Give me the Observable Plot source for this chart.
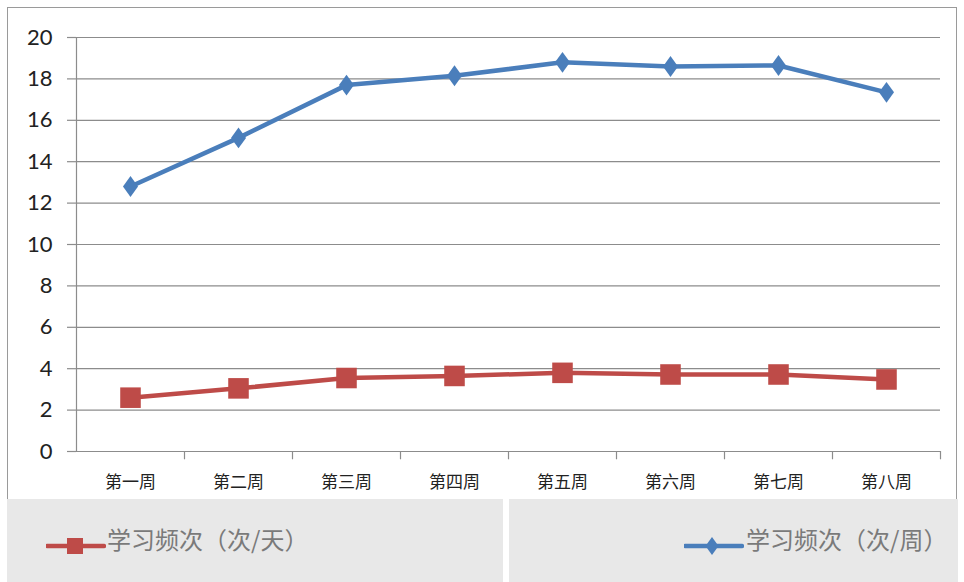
<!DOCTYPE html>
<html>
<head>
<meta charset="utf-8">
<script src="https://cdn.jsdelivr.net/npm/d3@7"></script>
<script src="https://cdn.jsdelivr.net/npm/@observablehq/plot@0.6"></script>
<style>
  html, body { margin: 0; padding: 0; background: #fff; }
  #wrap { position: relative; width: 964px; height: 582px; overflow: hidden; }
  #frame { position: absolute; left: 7px; top: 7px; width: 950px; height: 580px; border: 1px solid #9a9a9a; box-sizing: border-box; }
  #chart { position: absolute; left: 0; top: 0; }
  .panel { position: absolute; top: 499px; height: 83px; background: #e8e8e8; }
  .sw { position: absolute; top: 534px; }
  .lt { position: absolute; top: 521px; font-family: "Noto Sans CJK SC", sans-serif; font-size: 24px; line-height: 36px; color: #7a7a7a; white-space: nowrap; }
</style>
</head>
<body>
<div id="wrap">
  <div id="frame"></div>
  <div class="panel" style="left:7px; width:496px;"></div>
  <div class="panel" style="left:509px; width:449px;"></div>
  <div id="chart"></div>
  <div class="sw" id="swDay" style="left:46px;"></div>
  <div class="lt" id="ltDay" style="left:107px;"></div>
  <div class="sw" id="swWeek" style="left:684px;"></div>
  <div class="lt" id="ltWeek" style="left:746px;"></div>
</div>
<script>
const weeks = ["第一周", "第二周", "第三周", "第四周", "第五周", "第六周", "第七周", "第八周"];
const perWeek = [12.8, 15.15, 17.7, 18.15, 18.8, 18.6, 18.65, 17.35];
const perDay = [2.6, 3.05, 3.55, 3.65, 3.8, 3.72, 3.72, 3.48];
const seriesNames = ["学习频次（次/天）", "学习频次（次/周）"];
const yTicks = [0, 2, 4, 6, 8, 10, 12, 14, 16, 18, 20];

const blue = "#4a7ebb";
const red = "#be4b48";
const gridColor = "#8c8c8c";

const weekData = weeks.map((w, i) => ({week: w, value: perWeek[i]}));
const dayData = weeks.map((w, i) => ({week: w, value: perDay[i]}));

const tallDiamond = {
  draw(context, size) {
    const h = Math.sqrt(size) * 0.62;
    const w = h * 0.72;
    context.moveTo(0, -h);
    context.lineTo(w, 0);
    context.lineTo(0, h);
    context.lineTo(-w, 0);
    context.closePath();
  }
};
const squareSym = {
  draw(context, size) {
    const s = Math.sqrt(size) / 2;
    context.rect(-s, -s, 2 * s, 2 * s);
  }
};

const mLeft = 76, mRight = 24;
const halfBand = (964 - mLeft - mRight) / weeks.length / 2;

const chart = Plot.plot({
  width: 964,
  height: 497,
  marginLeft: mLeft,
  marginRight: mRight,
  marginTop: 37,
  marginBottom: 46,
  style: {background: "transparent", fontFamily: "Lato, sans-serif"},
  x: {type: "band", domain: weeks, padding: 0, axis: null},
  y: {domain: [0, 20], axis: null},
  marks: [
    Plot.ruleY(yTicks, {stroke: gridColor, strokeWidth: 1.2}),
    Plot.ruleX([weeks[0]], {dx: -halfBand, y1: 0, y2: 20, stroke: gridColor, strokeWidth: 1.2}),
    Plot.ruleX(weeks, {dx: halfBand, y1: 0, y2: -0.4, stroke: gridColor, strokeWidth: 1.2}),
    Plot.axisY({ticks: yTicks, tickSize: 9, tickPadding: 15, fontSize: 22, fill: "#222", stroke: gridColor, strokeWidth: 1.2, label: null}),
    Plot.axisX({tickSize: 0, tickPadding: 24, fontSize: 17, fill: "#222", label: null, fontFamily: "'Noto Sans CJK SC', sans-serif"}),
    Plot.line(weekData, {x: "week", y: "value", stroke: blue, strokeWidth: 4.5}),
    Plot.dot(weekData, {x: "week", y: "value", fill: blue, symbol: tallDiamond, r: 9.5, stroke: null}),
    Plot.line(dayData, {x: "week", y: "value", stroke: red, strokeWidth: 4.5}),
    Plot.dot(dayData, {x: "week", y: "value", fill: red, symbol: squareSym, r: 11.6, stroke: null})
  ]
});
document.getElementById("chart").appendChild(chart);

function legendSwatch(color, kind) {
  const svg = d3.create("svg").attr("width", 60).attr("height", 24).style("display", "block");
  svg.append("line").attr("x1", 1).attr("x2", 58).attr("y1", 12).attr("y2", 12).attr("stroke", color).attr("stroke-width", 4.5).attr("stroke-linecap", "round");
  if (kind === "square") {
    svg.append("rect").attr("x", 21).attr("y", 4).attr("width", 16).attr("height", 16).attr("fill", color);
  } else {
    svg.append("path").attr("d", "M28,3 L34.5,12 L28,21 L21.5,12 Z").attr("fill", color);
  }
  return svg.node();
}
document.getElementById("swDay").appendChild(legendSwatch(red, "square"));
document.getElementById("ltDay").textContent = seriesNames[0];
document.getElementById("swWeek").appendChild(legendSwatch(blue, "diamond"));
document.getElementById("ltWeek").textContent = seriesNames[1];
</script>
</body>
</html>
